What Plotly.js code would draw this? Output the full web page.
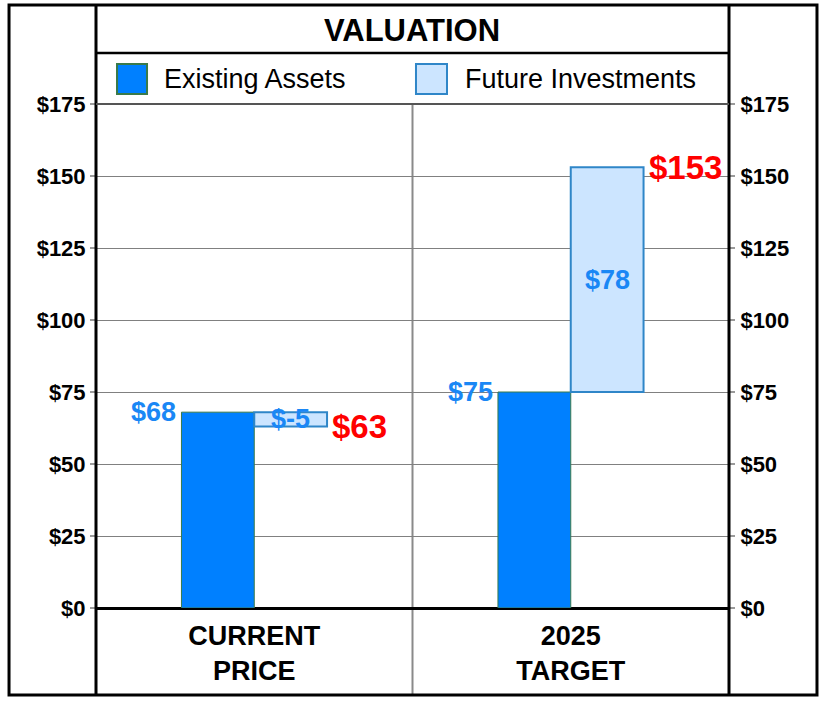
<!DOCTYPE html>
<html>
<head>
<meta charset="utf-8">
<script src="https://cdn.plot.ly/plotly-3.0.1.min.js"></script>
<style>html,body{margin:0;padding:0;background:#fff;}#chart{width:824px;height:704px;}</style>
</head>
<body>
<div id="chart"></div>
<script>
// ---- data ----
const categories = ['CURRENT<br>PRICE', '2025<br>TARGET'];
const existingAssets = [68, 75];
const futureInvestments = [-5, 78];
const totals = [63, 153];
const seriesNames = ['Existing Assets', 'Future Investments'];
const chartTitle = 'VALUATION';
const tickVals = [0, 25, 50, 75, 100, 125, 150, 175];

// ---- style ----
const blueFill = '#0080ff';
const lightFill = '#cce5ff';
const labelBlue = '#1a87f5';
const totalRed = '#ff0000';
const fontFam = '"Liberation Sans", Arial, Helvetica, sans-serif';
const fmt = v => '$' + v;

const traces = [
  {
    type: 'bar', name: seriesNames[0], x: categories, y: existingAssets,
    marker: {color: blueFill, line: {color: '#3a7a4a', width: 1}},
    hoverinfo: 'skip'
  },
  {
    type: 'bar', name: seriesNames[1], x: categories, y: futureInvestments,
    base: existingAssets,
    marker: {color: lightFill, line: {color: '#2f86c8', width: 2}},
    hoverinfo: 'skip'
  },
  {
    type: 'scatter', x: categories, y: totals, yaxis: 'y2', mode: 'markers',
    marker: {opacity: 0}, showlegend: false, hoverinfo: 'skip'
  }
];

const annotations = [];
categories.forEach((c, i) => {
  annotations.push({x: i - 0.23, y: existingAssets[i], xref: 'x', yref: 'y',
    text: fmt(existingAssets[i]), showarrow: false, xanchor: 'right', yanchor: 'middle',
    xshift: -3, font: {family: fontFam, size: 27, color: labelBlue, weight: 'bold'}});
  annotations.push({x: i + 0.115, y: existingAssets[i] + futureInvestments[i] / 2, xref: 'x', yref: 'y',
    text: fmt(futureInvestments[i]), showarrow: false, xanchor: 'center', yanchor: 'middle',
    font: {family: fontFam, size: 27, color: labelBlue, weight: 'bold'}});
  annotations.push({x: i + 0.23, y: totals[i], xref: 'x', yref: 'y',
    text: fmt(totals[i]), showarrow: false, xanchor: 'left', yanchor: 'middle',
    xshift: 3, font: {family: fontFam, size: 33, color: totalRed, weight: 'bold'}});
});
// manual legend text
annotations.push({x: 0.104, y: 1.0496, xref: 'paper', yref: 'paper', text: seriesNames[0],
  showarrow: false, xanchor: 'left', yanchor: 'middle', font: {family: fontFam, size: 27, color: '#000'}});
annotations.push({x: 0.58, y: 1.0496, xref: 'paper', yref: 'paper', text: seriesNames[1],
  showarrow: false, xanchor: 'left', yanchor: 'middle', font: {family: fontFam, size: 27, color: '#000'}});

const bTop = 1.1964, bBot = -0.1726, bL = -0.1374, bR = 1.139;
const shapes = [
  // outer frame
  {type: 'rect', xref: 'paper', yref: 'paper', x0: bL, x1: bR, y0: bBot, y1: bTop, line: {color: '#000', width: 3}},
  // inner verticals
  {type: 'line', xref: 'paper', yref: 'paper', x0: 0, x1: 0, y0: bBot, y1: bTop, line: {color: '#000', width: 3}},
  {type: 'line', xref: 'paper', yref: 'paper', x0: 1, x1: 1, y0: bBot, y1: bTop, line: {color: '#000', width: 3}},
  // line under title
  {type: 'line', xref: 'paper', yref: 'paper', x0: 0, x1: 1, y0: 1.101, y1: 1.101, line: {color: '#000', width: 2.5}},
  // middle divider
  {type: 'line', xref: 'paper', yref: 'paper', x0: 0.5, x1: 0.5, y0: bBot, y1: 1, line: {color: '#8a8a8a', width: 2}, layer: 'below'},
  // plot top line
  {type: 'line', xref: 'paper', yref: 'paper', x0: 0, x1: 1, y0: 1, y1: 1, line: {color: '#555', width: 2}},
  // legend swatches
  {type: 'rect', xref: 'paper', yref: 'paper', x0: 0.0332, x1: 0.0806, y0: 1.0198, y1: 1.0794,
    fillcolor: blueFill, line: {color: '#3a7a4a', width: 2}},
  {type: 'rect', xref: 'paper', yref: 'paper', x0: 0.5055, x1: 0.5545, y0: 1.0198, y1: 1.0794,
    fillcolor: lightFill, line: {color: '#2f86c8', width: 2}}
];

const yCommon = {
  range: [0, 175], tickvals: tickVals, ticktext: tickVals.map(fmt),
  ticks: 'outside', ticklen: 5, tickwidth: 2, tickcolor: '#9a9a9a',
  tickfont: {family: fontFam, size: 22, color: '#000', weight: 'bold'},
  showline: false, fixedrange: true
};

const layout = {
  width: 824, height: 704,
  margin: {l: 96, r: 95, t: 104, b: 96},
  paper_bgcolor: '#fff', plot_bgcolor: '#fff',
  title: {text: chartTitle, x: 0.5, xanchor: 'center', y: 0.957, yanchor: 'middle',
    font: {family: fontFam, size: 31, color: '#000', weight: 'bold'}},
  showlegend: false,
  barmode: 'group', bargap: 0.54, bargroupgap: 0,
  xaxis: {type: 'category', showgrid: false, ticks: '', showline: false, zeroline: false,
    ticklabelstandoff: 9,
    tickfont: {family: fontFam, size: 27, color: '#000', weight: 'bold'}, fixedrange: true},
  yaxis: Object.assign({}, yCommon, {side: 'left', showgrid: true, gridcolor: '#808080', gridwidth: 1,
    zeroline: true, zerolinecolor: '#000', zerolinewidth: 3}),
  yaxis2: Object.assign({}, yCommon, {side: 'right', overlaying: 'y', showgrid: false, zeroline: false,
    ticklabelstandoff: 1}),
  shapes: shapes,
  annotations: annotations
};

Plotly.newPlot('chart', traces, layout, {displayModeBar: false, staticPlot: true});
</script>
</body>
</html>
